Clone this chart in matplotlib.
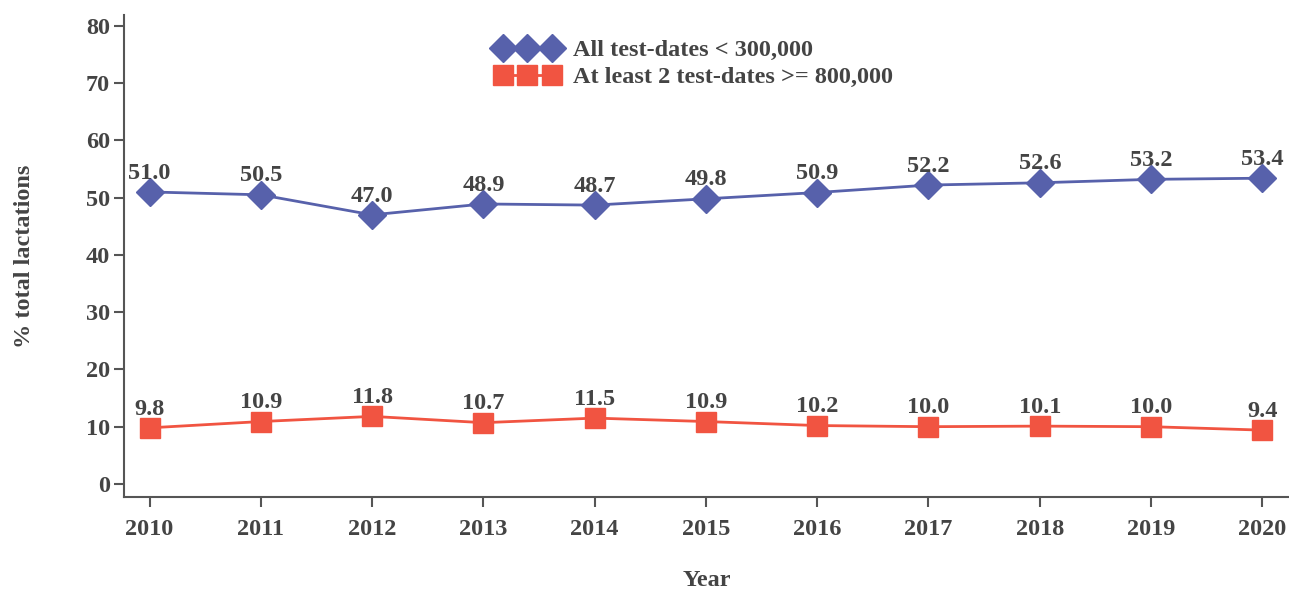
import matplotlib.pyplot as plt
import numpy as np

# lactation share by year, two test-date groups
years = [2010, 2011, 2012, 2013, 2014, 2015, 2016, 2017, 2018, 2019, 2020]
under_300k = [51.0, 50.5, 47.0, 48.9, 48.7, 49.8, 50.9, 52.2, 52.6, 53.2, 53.4]
over_800k = [9.8, 10.9, 11.8, 10.7, 11.5, 10.9, 10.2, 10.0, 10.1, 10.0, 9.4]

labels = ['All test-dates < 300,000', 'At least 2 test-dates >= 800,000']

blue = '#5761AB'
red = '#F15441'
grey = '#444444'
fs = 17.5

plt.rcParams['font.family'] = ['Liberation Serif', 'DejaVu Serif']
plt.rcParams['font.weight'] = 'bold'

fig = plt.figure(figsize=(12.89, 5.89), dpi=100)
ax = fig.add_axes([0.0962, 0.156, 0.9038, 0.8185])

ax.plot(years, under_300k, color=blue, lw=2, marker='D', ms=14,
        label=labels[0])
ax.plot(years, over_800k, color=red, lw=2, marker='s', ms=15,
        label=labels[1])

for x, y in zip(years, under_300k):
    ax.annotate('%.1f' % y, (x, y), xytext=(0, 6), textcoords='offset points',
                ha='center', va='bottom', fontsize=fs, fontweight='bold', color=grey)
for x, y in zip(years, over_800k):
    ax.annotate('%.1f' % y, (x, y), xytext=(0, 6), textcoords='offset points',
                ha='center', va='bottom', fontsize=fs, fontweight='bold', color=grey)

ax.set_xlim(2009.77, 2020.24)
ax.set_ylim(-2.3, 81.9)
ax.set_xticks(years)
ax.set_yticks(np.arange(0, 81, 10))

for s in ['top', 'right']:
    ax.spines[s].set_visible(False)
for s in ['left', 'bottom']:
    ax.spines[s].set_color('#555555')
    ax.spines[s].set_linewidth(1.5)

ax.tick_params(colors='#555555', width=1.5, length=7, labelcolor=grey,
               labelsize=fs)
ax.tick_params(axis='x', pad=9)
ax.tick_params(axis='y', pad=3)
for t in ax.get_xticklabels() + ax.get_yticklabels():
    t.set_fontweight('bold')

ax.set_xlabel('Year', fontsize=fs, fontweight='bold', color=grey)
ax.set_ylabel('% total lactations', fontsize=fs, fontweight='bold', color=grey)
ax.xaxis.set_label_coords(0.5, -0.172)
ax.yaxis.set_label_coords(-0.085, 0.5)
ax.yaxis.label.set_va('center')
ax.xaxis.label.set_va('center')

ax.legend(loc='upper left', bbox_to_anchor=(0.319, 0.95), numpoints=3,
          frameon=False, handlelength=2.6, handletextpad=0.6,
          labelspacing=0.2, borderpad=0, borderaxespad=0,
          prop={'weight': 'bold', 'size': fs}, labelcolor=grey)

fig.savefig('out.png', dpi=100)
